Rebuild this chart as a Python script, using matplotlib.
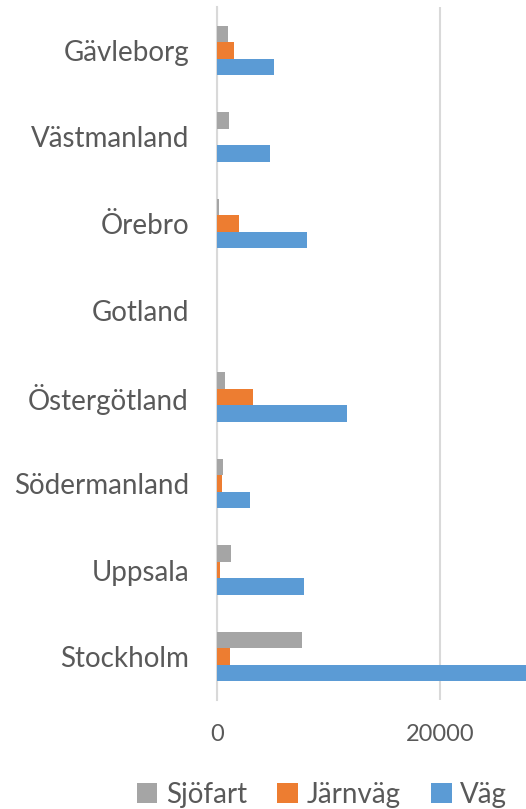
import numpy as np
import matplotlib.pyplot as plt

# Data (bottom to top as drawn)
regions = ['Stockholm', 'Uppsala', 'Södermanland', 'Östergötland',
           'Gotland', 'Örebro', 'Västmanland', 'Gävleborg']
sjofart = [7670, 1300, 550, 700, 0, 230, 1120, 1050]
jarnvag = [1190, 310, 460, 3210, 0, 2010, 0, 1580]
vag = [30500, 7830, 2940, 11660, 0, 8120, 4730, 5130]

c_sjo = '#a5a5a5'
c_jarn = '#ed7d31'
c_vag = '#5b9bd5'
txt = '#595959'

plt.rcParams['font.family'] = ['Lato', 'DejaVu Sans']

fig = plt.figure(figsize=(5.26, 8.09), dpi=100)
ax = fig.add_axes([216.7 / 526, 109 / 809, (526 - 216.7) / 526, 693 / 809])

y = np.arange(len(regions))
h = 0.19
ax.barh(y - h, vag, height=h, color=c_vag, label='Väg', zorder=3)
ax.barh(y, jarnvag, height=h, color=c_jarn, label='Järnväg', zorder=3)
ax.barh(y + h, sjofart, height=h, color=c_sjo, label='Sjöfart', zorder=3)

ax.set_xlim(0, 27690)
ax.set_ylim(-0.5, len(regions) - 0.5)
ax.set_yticks(y)
ax.set_yticklabels(regions, fontsize=20, color=txt)
ax.set_xticks([0, 20000])
ax.set_xticklabels(['0', '20000'], fontsize=17, color=txt)
ax.tick_params(axis='both', length=0)
ax.tick_params(axis='y', pad=20)
ax.tick_params(axis='x', pad=17)

ax.grid(axis='x', color='#d9d9d9', linewidth=1.5, zorder=0)
for s in ['top', 'right', 'bottom']:
    ax.spines[s].set_visible(False)
ax.spines['left'].set_color('#d9d9d9')
ax.spines['left'].set_linewidth(1.5)

handles, labels = ax.get_legend_handles_labels()
order = [2, 1, 0]
fig.legend([handles[i] for i in order], [labels[i] for i in order],
           loc='center', bbox_to_anchor=(0.612, 14 / 809), ncol=3,
           frameon=False, fontsize=20, labelcolor=txt,
           handlelength=0.75, handleheight=0.75, handletextpad=0.3,
           columnspacing=1.1)

fig.savefig('out.png', dpi=100)
